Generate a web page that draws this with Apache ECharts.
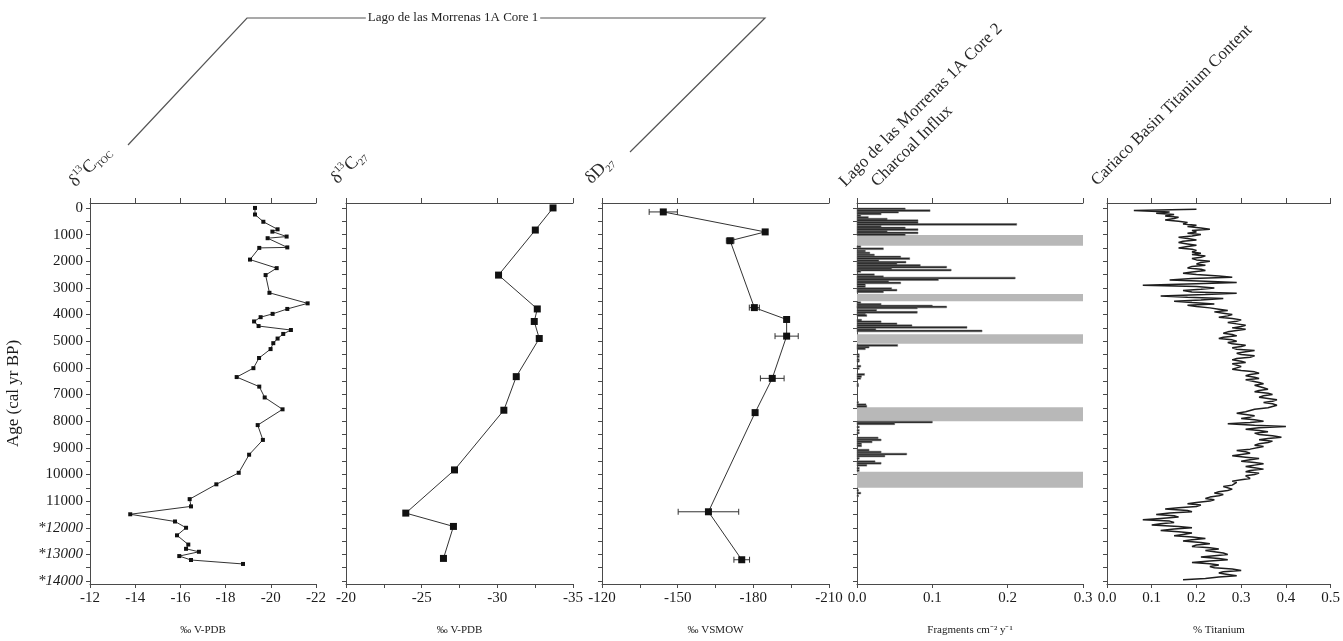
<!DOCTYPE html>
<html>
<head>
<meta charset="utf-8">
<script src="https://cdn.jsdelivr.net/npm/echarts@6/dist/echarts.min.js"></script>
<style>
html,body{margin:0;padding:0;background:#fff;}
#chart{width:1343px;height:641px;}
</style>
</head>
<body>
<div id="chart"></div>
<script>
// ---------------- DATA ----------------
const ageLabelValues = [0,1000,2000,3000,4000,5000,6000,7000,8000,9000,10000,11000,12000,13000,14000];
const ageTickValues = [0,500,1000,1500,2000,2500,3000,3500,4000,4500,5000,5500,6000,6500,7000,7500,8000,8500,9000,9500,10000,10500,11000,11500,12000,12500,13000,13500,14000];

// Panel 1: d13C TOC
const tocAge = [0,247,519,802,889,1074,1136,1481,1500,1938,2259,2519,3185,3580,3790,3975,4099,4259,4432,4580,4728,4901,5074,5296,5630,6012,6346,6704,7111,7556,8148,8704,9259,9938,10370,10926,11198,11494,11765,12000,12284,12630,12790,12901,13062,13210,13358];
const tocVal = [-19.30,-19.30,-19.67,-20.30,-20.07,-20.70,-19.86,-20.73,-19.49,-19.08,-20.26,-19.77,-19.94,-21.63,-20.73,-20.08,-19.55,-19.26,-19.46,-20.89,-20.55,-20.30,-20.11,-19.99,-19.48,-19.23,-18.49,-19.49,-19.73,-20.52,-19.42,-19.65,-19.04,-18.58,-17.59,-16.41,-16.47,-13.78,-15.76,-16.25,-15.85,-16.35,-16.25,-16.82,-15.95,-16.47,-18.77];

// Panel 2: d13C27
const c27Age = [0,830,2520,3790,4260,4900,6330,7590,9830,11450,11950,13150];
const c27Val = [-33.68,-32.51,-30.08,-32.64,-32.44,-32.77,-31.25,-30.43,-27.17,-23.95,-27.10,-26.44];

// Panel 3: dD27 with errors
const dDAge = [150,900,1230,3740,4185,4810,6395,7680,11400,13200];
const dDVal = [-144.3,-184.7,-170.8,-180.4,-193.2,-193.2,-187.5,-180.7,-162.2,-175.4];
const dDErr = [5.6,0,1.5,2,0,4.6,4.7,0,12,3.1];

// Panel 4: charcoal influx
const charAge = [37,99,160,222,296,358,420,481,556,617,691,753,815,877,938,1000,
1457,1531,1617,1691,1765,1840,1901,1975,2037,2099,2160,2222,2284,2333,2383,2506,2580,2630,2691,2753,2815,2877,2951,3025,3086,3148,
3556,3617,3679,3716,3753,3840,3914,3988,4037,4210,4272,4346,4420,4481,4556,4617,
5160,5222,5284,5506,5580,5691,5753,5938,6025,6247,6321,6395,6617,6679,7296,7383,7444,
8037,8099,8222,8346,8444,8630,8704,8778,8852,8926,9086,9160,9235,9309,9395,9519,9580,9654,9765,9852,
10600,10700,10800];
const charVal = [0.064,0.097,0.055,0.032,0.005,0.015,0.040,0.081,0.081,0.212,0.032,0.064,0.081,0.040,0.081,0.064,
0.005,0.035,0.011,0.017,0.023,0.058,0.070,0.029,0.065,0.053,0.084,0.119,0.046,0.125,0.005,0.023,0.035,0.210,0.108,0.042,0.058,0.011,0.011,0.046,0.053,0.035,
0.005,0.032,0.100,0.119,0.080,0.026,0.080,0.011,0.013,0.006,0.032,0.053,0.073,0.146,0.025,0.166,
0.054,0.016,0.011,0.003,0.003,0.003,0.003,0.005,0.003,0.010,0.006,0.005,0.002,0.002,0.002,0.012,0.013,
0.100,0.050,0.003,0.003,0.003,0.028,0.032,0.020,0.006,0.006,0.016,0.032,0.066,0.037,0.003,0.024,0.032,0.013,0.003,0.003,
0.002,0.005,0.002];
const gapStart = [1020,3230,4740,7480,9900];
const gapEnd   = [1420,3500,5100,8000,10500];

// Panel 5: Cariaco titanium  [age, %Ti]
const tiData = [[50,0.20],[100,0.06],[150,0.14],[200,0.11],[250,0.15],[300,0.13],[350,0.16],
[400,0.15],[450,0.13],[500,0.16],[550,0.18],[600,0.17],[650,0.20],[700,0.18],[750,0.21],[800,0.23],[850,0.19],[900,0.20],[950,0.18],
[1000,0.21],[1050,0.19],[1100,0.16],[1150,0.18],[1200,0.20],[1250,0.17],[1300,0.16],[1350,0.18],[1400,0.20],[1450,0.18],
[1500,0.16],[1550,0.19],[1600,0.20],[1650,0.19],[1700,0.21],[1750,0.19],[1800,0.22],[1850,0.21],[1900,0.19],[1950,0.20],
[2000,0.23],[2050,0.21],[2100,0.20],[2150,0.22],[2200,0.19],[2250,0.18],[2300,0.21],[2350,0.22],[2400,0.19],[2450,0.17],
[2500,0.20],[2550,0.25],[2600,0.28],[2650,0.19],[2700,0.14],[2750,0.22],[2800,0.29],[2850,0.18],[2900,0.08],[2950,0.20],
[3000,0.24],[3050,0.21],[3100,0.17],[3150,0.19],[3200,0.29],[3250,0.22],[3300,0.12],[3350,0.18],[3400,0.26],[3450,0.21],
[3500,0.15],[3550,0.19],[3600,0.24],[3650,0.18],[3700,0.20],[3750,0.23],[3800,0.25],[3850,0.27],[3900,0.24],[3950,0.26],
[4000,0.28],[4050,0.27],[4100,0.25],[4150,0.28],[4200,0.30],[4250,0.29],[4300,0.27],[4350,0.29],[4400,0.31],[4450,0.30],
[4500,0.28],[4550,0.31],[4600,0.29],[4650,0.27],[4700,0.26],[4750,0.28],[4800,0.29],[4850,0.26],[4900,0.25],[4950,0.28],
[5000,0.29],[5050,0.27],[5100,0.28],[5150,0.31],[5200,0.30],[5250,0.28],[5300,0.29],[5350,0.33],[5400,0.31],[5450,0.29],
[5500,0.30],[5550,0.33],[5600,0.32],[5650,0.29],[5700,0.28],[5750,0.30],[5800,0.31],[5850,0.28],[5900,0.28],[5950,0.30],
[6000,0.29],[6050,0.28],[6100,0.30],[6150,0.33],[6200,0.34],[6250,0.32],[6300,0.31],[6350,0.33],[6400,0.34],[6450,0.31],
[6500,0.31],[6550,0.34],[6600,0.35],[6650,0.33],[6700,0.33],[6750,0.35],[6800,0.36],[6850,0.34],[6900,0.33],[6950,0.36],
[7000,0.37],[7050,0.35],[7100,0.34],[7150,0.36],[7200,0.38],[7250,0.37],[7300,0.35],[7350,0.37],[7400,0.38],[7450,0.37],
[7500,0.36],[7550,0.33],[7600,0.32],[7650,0.31],[7700,0.29],[7750,0.31],[7800,0.33],[7850,0.32],[7900,0.30],[7950,0.33],
[8000,0.35],[8050,0.32],[8100,0.27],[8150,0.33],[8200,0.40],[8250,0.34],[8300,0.31],[8350,0.34],[8400,0.36],[8450,0.33],
[8500,0.34],[8550,0.37],[8600,0.39],[8650,0.36],[8700,0.34],[8750,0.37],[8800,0.36],[8850,0.34],[8900,0.33],[8950,0.35],
[9000,0.35],[9050,0.32],[9100,0.29],[9150,0.31],[9200,0.32],[9250,0.30],[9300,0.28],[9350,0.31],[9400,0.34],[9450,0.32],
[9500,0.30],[9550,0.33],[9600,0.35],[9650,0.33],[9700,0.31],[9750,0.33],[9800,0.35],[9850,0.32],[9900,0.31],[9950,0.34],
[10000,0.33],[10050,0.31],[10100,0.31],[10150,0.32],[10200,0.30],[10250,0.28],[10300,0.29],[10350,0.29],[10400,0.28],[10450,0.26],
[10500,0.26],[10550,0.28],[10600,0.27],[10650,0.25],[10700,0.24],[10750,0.26],[10800,0.25],[10850,0.23],[10900,0.22],[10950,0.24],
[11000,0.23],[11050,0.20],[11100,0.18],[11150,0.21],[11200,0.20],[11250,0.16],[11300,0.13],[11350,0.18],[11400,0.19],[11450,0.14],
[11500,0.11],[11550,0.15],[11600,0.16],[11650,0.12],[11700,0.08],[11750,0.14],[11800,0.15],[11850,0.12],[11900,0.10],[11950,0.16],
[12000,0.19],[12050,0.15],[12100,0.12],[12150,0.16],[12200,0.19],[12250,0.17],[12300,0.15],[12350,0.19],[12400,0.22],[12450,0.19],
[12500,0.17],[12550,0.21],[12600,0.23],[12650,0.20],[12700,0.19],[12750,0.23],[12800,0.25],[12850,0.22],[12900,0.22],[12950,0.26],
[13000,0.27],[13050,0.24],[13100,0.21],[13150,0.25],[13200,0.27],[13250,0.23],[13300,0.19],[13350,0.23],[13400,0.25],[13450,0.23],
[13500,0.24],[13550,0.28],[13600,0.30],[13650,0.26],[13700,0.25],[13750,0.27],[13800,0.29],[13850,0.25],[13900,0.22],[13950,0.17]];

// ---------------- CHART ----------------
const FONT = 'Liberation Serif';
const AX = '#4a4a4a';
const TXT = '#1a1a1a';
const gridLefts = [90,346,602,857,1107];
const gridWidths = [226,227,227,226,226];
const GT = 203, GH = 387;
const yMin = -185, yMax = 14110;

const xSpecs = [
  {min:-22,max:-12,inverse:true,labels:[-22,-20,-18,-16,-14,-12],ticks:[-22,-20,-18,-16,-14,-12],name:'\u2030 V-PDB',fmt:v=>String(v)},
  {min:-35,max:-20,inverse:true,labels:[-35,-30,-25,-20],ticks:[-35,-32.5,-30,-27.5,-25,-22.5,-20],name:'\u2030 V-PDB',fmt:v=>String(v)},
  {min:-210,max:-120,inverse:true,labels:[-210,-180,-150,-120],ticks:[-210,-195,-180,-165,-150,-135,-120],name:'\u2030 VSMOW',fmt:v=>String(v)},
  {min:0,max:0.3,inverse:false,labels:[0,0.1,0.2,0.3],ticks:[0,0.1,0.2,0.3],name:'Fragments cm\u207B\u00B2 y\u207B\u00B9',fmt:v=>v.toFixed(1)},
  {min:0,max:0.5,inverse:false,labels:[0,0.1,0.2,0.3,0.4,0.5],ticks:[0,0.1,0.2,0.3,0.4,0.5],name:'% Titanium',fmt:v=>v.toFixed(1)}
];

const grids = gridLefts.map((l,i)=>({left:l,top:GT,width:gridWidths[i],height:GH,containLabel:false}));

const xAxes = [];
xSpecs.forEach((s,i)=>{
  xAxes.push({
    type:'value',gridIndex:i,position:'bottom',min:s.min,max:s.max,inverse:s.inverse,
    axisLine:{show:true,onZero:false,lineStyle:{color:AX,width:1}},
    axisTick:{show:true,inside:false,length:4,customValues:s.ticks,lineStyle:{color:AX}},
    axisLabel:{show:true,margin:7,fontFamily:FONT,fontSize:15,color:TXT,customValues:s.labels,formatter:s.fmt},
    splitLine:{show:false},
    name:s.name,nameLocation:'middle',nameGap:41,
    nameTextStyle:{fontFamily:FONT,fontSize:11,color:TXT}
  });
  xAxes.push({
    type:'value',gridIndex:i,position:'top',min:s.min,max:s.max,inverse:s.inverse,
    axisLine:{show:true,onZero:false,lineStyle:{color:AX,width:1}},
    axisTick:{show:true,inside:false,length:5,customValues:s.labels,lineStyle:{color:AX}},
    axisLabel:{show:false},splitLine:{show:false}
  });
});

const yAxes = gridLefts.map((l,i)=>({
  type:'value',gridIndex:i,position:'left',min:yMin,max:yMax,inverse:true,
  axisLine:{show:true,onZero:false,lineStyle:{color:AX,width:1}},
  axisTick:{show:true,inside:false,length:4,customValues:ageTickValues,lineStyle:{color:AX}},
  axisLabel:{show:i===0,margin:7,fontFamily:FONT,fontSize:15,color:TXT,customValues:ageLabelValues,
    formatter:v=> v>=12000 ? '{it|*'+v+'}' : String(v),
    rich:{it:{fontFamily:FONT,fontSize:15,fontStyle:'italic',color:TXT}}},
  splitLine:{show:false},
  name:i===0?'Age (cal yr BP)':'',nameLocation:'middle',nameGap:68,
  nameTextStyle:{fontFamily:FONT,fontSize:17,color:TXT}
}));

function pairs(xs,ys){return xs.map((x,i)=>[x,ys[i]]);}

const series = [
  {type:'line',xAxisIndex:0,yAxisIndex:0,data:pairs(tocVal,tocAge),symbol:'rect',symbolSize:4,
   lineStyle:{color:'#333',width:1},itemStyle:{color:'#111'},animation:false},
  {type:'line',xAxisIndex:2,yAxisIndex:1,data:pairs(c27Val,c27Age),symbol:'rect',symbolSize:7,
   lineStyle:{color:'#333',width:1},itemStyle:{color:'#111'},animation:false},
  {type:'custom',xAxisIndex:4,yAxisIndex:2,animation:false,
   data:dDVal.map((v,i)=>[v,dDAge[i],dDErr[i]]),encode:{x:0,y:1},
   renderItem:function(params,api){
     const v=api.value(0),a=api.value(1),e=api.value(2);
     if(!e) return null;
     const p0=api.coord([v-e,a]),p1=api.coord([v+e,a]);
     const st={stroke:'#333',lineWidth:1};
     return {type:'group',children:[
       {type:'line',shape:{x1:p0[0],y1:p0[1],x2:p1[0],y2:p1[1]},style:st},
       {type:'line',shape:{x1:p0[0],y1:p0[1]-3,x2:p0[0],y2:p0[1]+3},style:st},
       {type:'line',shape:{x1:p1[0],y1:p1[1]-3,x2:p1[0],y2:p1[1]+3},style:st}
     ]};
   }},
  {type:'line',xAxisIndex:4,yAxisIndex:2,data:pairs(dDVal,dDAge),symbol:'rect',symbolSize:7,
   lineStyle:{color:'#333',width:1},itemStyle:{color:'#111'},animation:false,z:3},
  {type:'custom',xAxisIndex:6,yAxisIndex:3,animation:false,
   data:gapStart.map((s,i)=>[0.3,s,gapEnd[i]]),encode:{x:0,y:1},
   renderItem:function(params,api){
     const p0=api.coord([0,api.value(1)]),p1=api.coord([api.value(0),api.value(2)]);
     return {type:'rect',shape:{x:p0[0],y:p0[1],width:p1[0]-p0[0],height:p1[1]-p0[1]},style:{fill:'#b8b8b8'}};
   }},
  {type:'custom',xAxisIndex:6,yAxisIndex:3,animation:false,
   data:charVal.map((v,i)=>[v,charAge[i]]),encode:{x:0,y:1},
   renderItem:function(params,api){
     const v=api.value(0),a=api.value(1);
     const p0=api.coord([0,a-33]),p1=api.coord([v,a+33]);
     return {type:'rect',shape:{x:p0[0],y:p0[1],width:Math.max(p1[0]-p0[0],0.8),height:p1[1]-p0[1]},
       style:{fill:'#1e1e1e',stroke:'#6e6e6e',lineWidth:0.5}};
   }},
  {type:'line',xAxisIndex:8,yAxisIndex:4,data:tiData.map(d=>[d[1],d[0]]),showSymbol:false,symbol:'none',
   lineStyle:{color:'#1e1e1e',width:1.5},animation:false}
];

function rt(x,y,text,rich){
  return {type:'text',x:x,y:y,rotation:Math.PI/4,
    style:{text:text,x:0,y:0,align:'left',verticalAlign:'bottom',rich:rich,
      fontFamily:FONT,fontSize:17,fill:'#2a2a2a'}};
}
const titleRich = {
  m:{fontFamily:FONT,fontSize:18,color:'#2a2a2a',lineHeight:22,verticalAlign:'middle'},
  sup:{fontFamily:FONT,fontSize:10,color:'#2a2a2a',verticalAlign:'top',lineHeight:22},
  sub:{fontFamily:FONT,fontSize:10,color:'#2a2a2a',verticalAlign:'bottom',lineHeight:22}
};

const graphic = [
  {type:'polyline',shape:{points:[[128,145],[247,18],[765,18],[630,152]]},style:{stroke:'#555',lineWidth:1.2,fill:null}},
  {type:'text',x:453,y:18,z:10,style:{text:'Lago de las Morrenas 1A Core 1',align:'center',verticalAlign:'middle',
    fontFamily:FONT,fontSize:13,fill:'#222',backgroundColor:'#fff',padding:[1,2]}},
  rt(80,192,'{m|\u03B4}{sup|13}{m|C}{sub|TOC}',titleRich),
  rt(342,189,'{m|\u03B4}{sup|13}{m|C}{sub|27}',titleRich),
  rt(596,189,'{m|\u03B4D}{sub|27}',titleRich),
  rt(848,190,'Lago de las Morrenas 1A Core 2',null),
  rt(880,190,'Charcoal Influx',null),
  rt(1100,189,'Cariaco Basin Titanium Content',null)
];

const chart = echarts.init(document.getElementById('chart'),null,{renderer:'canvas'});
chart.setOption({
  backgroundColor:'#fff',animation:false,
  grid:grids,xAxis:xAxes,yAxis:yAxes,series:series,graphic:graphic
});
</script>
</body>
</html>
